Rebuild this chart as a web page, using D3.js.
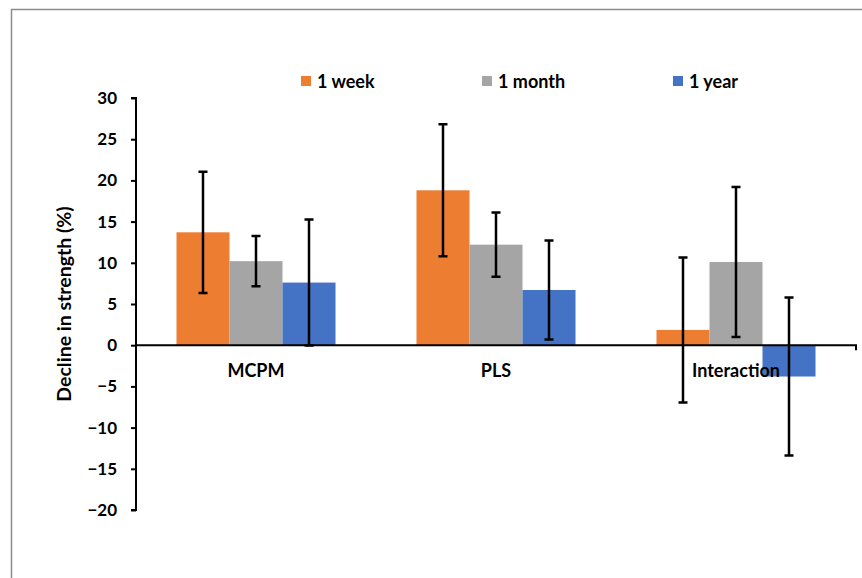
<!DOCTYPE html>
<html>
<head>
<meta charset="utf-8">
<script src="https://cdn.jsdelivr.net/npm/d3@7"></script>
<style>
  body { margin: 0; background: #fff; }
  text { font-family: Lato, "Open Sans", sans-serif; font-weight: bold; fill: #000; }
</style>
</head>
<body>
<svg id="chart" width="862" height="578"></svg>
<script>
// data
var categories = ["MCPM", "PLS", "Interaction"];
var series = ["1 week", "1 month", "1 year"];
var week = [13.7, 18.8, 1.85];
var month = [10.2, 12.2, 10.1];
var year = [7.6, 6.7, -3.8];
var weekErr = [7.35, 8.0, 8.8];
var monthErr = [3.05, 3.9, 9.1];
var yearErr = [7.65, 6.0, 9.6];
var yTicks = [30, 25, 20, 15, 10, 5, 0, -5, -10, -15, -20];

var colors = ["#ED7D31", "#A5A5A5", "#4472C4"];

var rows = [];
categories.forEach(function(c, i) {
  rows.push({cat: c, s: series[0], v: week[i], e: weekErr[i]});
  rows.push({cat: c, s: series[1], v: month[i], e: monthErr[i]});
  rows.push({cat: c, s: series[2], v: year[i], e: yearErr[i]});
});

var svg = d3.select("#chart");

// outer frame
svg.append("rect")
  .attr("x", 11.5).attr("y", 9.5)
  .attr("width", 900).attr("height", 600)
  .attr("fill", "none").attr("stroke", "#8c8c8c").attr("stroke-width", 1.5);

var y = d3.scaleLinear().domain([-20, 30]).range([510, 98]);
var x = d3.scaleBand().domain(categories).range([136, 856]).paddingInner(0).paddingOuter(0);
var xs = d3.scaleBand().domain(series).range([0, x.bandwidth()]).paddingInner(0).paddingOuter(0.764);
var color = d3.scaleOrdinal().domain(series).range(colors);

// bars
svg.append("g").selectAll("rect")
  .data(rows).enter().append("rect")
  .attr("x", function(d) { return x(d.cat) + xs(d.s); })
  .attr("y", function(d) { return y(Math.max(0, d.v)); })
  .attr("width", xs.bandwidth())
  .attr("height", function(d) { return Math.abs(y(d.v) - y(0)); })
  .attr("fill", function(d) { return color(d.s); });

// y axis
var yAxis = d3.axisLeft(y).tickValues(yTicks).tickSize(5).tickPadding(14)
  .tickFormat(function(d) { return d < 0 ? "\u2212" + Math.abs(d) : d; });
var gy = svg.append("g").attr("transform", "translate(136,0)").call(yAxis);
gy.select(".domain").attr("stroke", "#000").attr("stroke-width", 2)
  .attr("d", "M-5," + y(30) + "H0V" + y(-20) + "H-5");
gy.selectAll(".tick line").attr("stroke", "#000").attr("stroke-width", 2);
gy.selectAll(".tick text").style("font-size", "17px").attr("font-family", null);

// x axis at zero
svg.append("path")
  .attr("d", "M136," + y(0) + "H856V" + (y(0) + 5))
  .attr("fill", "none").attr("stroke", "#000").attr("stroke-width", 2);

// category labels
svg.append("g").selectAll("text")
  .data(categories).enter().append("text")
  .attr("x", function(d) { return x(d) + x.bandwidth() / 2; })
  .attr("y", 377)
  .attr("text-anchor", "middle")
  .style("font-size", "18px")
  .text(function(d) { return d; });

// error bars
var eb = svg.append("g").attr("stroke", "#000").attr("stroke-width", 2.5).attr("fill", "none");
rows.forEach(function(d) {
  var cx = x(d.cat) + xs(d.s) + xs.bandwidth() / 2;
  var top = y(d.v + d.e), bot = y(d.v - d.e);
  eb.append("path").attr("d",
    "M" + cx + "," + top + "V" + bot +
    "M" + (cx - 4.5) + "," + top + "H" + (cx + 4.5) +
    "M" + (cx - 4.5) + "," + bot + "H" + (cx + 4.5));
});

// y title
svg.append("text")
  .attr("transform", "translate(71,304) rotate(-90)")
  .attr("text-anchor", "middle")
  .style("font-size", "19.5px")
  .text("Decline in strength (%)");

// legend
var legX = [301, 482, 673];
var leg = svg.append("g").selectAll("g")
  .data(series).enter().append("g")
  .attr("transform", function(d, i) { return "translate(" + legX[i] + ",76)"; });
leg.append("rect").attr("width", 10).attr("height", 10)
  .attr("fill", function(d) { return color(d); });
leg.append("text").attr("x", 16).attr("y", 11.5)
  .style("font-size", "18px")
  .text(function(d) { return d; });
</script>
</body>
</html>
